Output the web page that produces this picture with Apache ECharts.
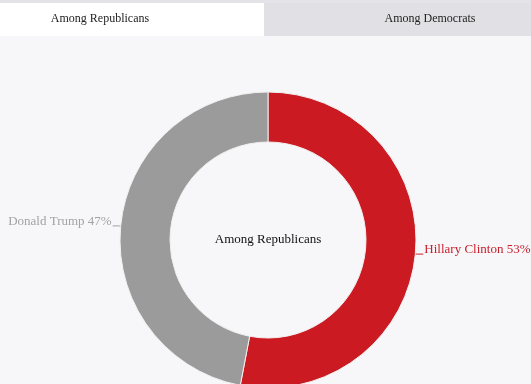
<!DOCTYPE html>
<html>
<head>
<meta charset="utf-8">
<script src="https://cdn.jsdelivr.net/npm/echarts@6/dist/echarts.min.js"></script>
<style>
  html, body { margin: 0; padding: 0; background: #f7f7fa; }
  #chart { width: 531px; height: 384px; }
</style>
</head>
<body>
<div id="chart"></div>
<script>
// Poll shares among Republicans
const candidates = ['Hillary Clinton', 'Donald Trump'];
const shares = [53, 47];
const sliceColors = ['#cc1a22', '#9b9b9b'];
const labelColors = ['#c8202c', '#a3a3a3'];
const tabNames = ['Among Republicans', 'Among Democrats'];
const centerTitle = 'Among Republicans';

const serif = '"Liberation Serif", "DejaVu Serif", serif';
const chart = echarts.init(document.getElementById('chart'));

const pieData = candidates.map((name, i) => ({
  name: name,
  value: shares[i],
  itemStyle: { color: sliceColors[i] },
  label: { color: labelColors[i] },
  labelLine: { lineStyle: { color: labelColors[i] } }
}));

const textStyle = (x, y, text, color, size) => ({
  type: 'text', x: x, y: y,
  style: { text: text, fill: color, fontFamily: serif, fontSize: size, align: 'center', verticalAlign: 'middle' }
});

chart.setOption({
  backgroundColor: '#f7f7fa',
  animation: false,
  graphic: [
    { type: 'rect', shape: { x: 0, y: 0, width: 531, height: 3 }, style: { fill: '#e4e4e8' } },
    { type: 'rect', shape: { x: 0, y: 3, width: 264, height: 33 }, style: { fill: '#ffffff' } },
    { type: 'rect', shape: { x: 264, y: 3, width: 267, height: 33 }, style: { fill: '#e1e1e5' } },
    textStyle(100, 19, tabNames[0], '#222', 12),
    textStyle(430, 19, tabNames[1], '#222', 12),
    textStyle(268, 240, centerTitle, '#111', 13)
  ],
  series: [{
    type: 'pie',
    center: [268, 240],
    radius: [98, 148],
    startAngle: 90,
    clockwise: true,
    data: pieData,
    itemStyle: { borderColor: '#f0f0f0', borderWidth: 1 },
    label: {
      show: true,
      position: 'outside',
      formatter: '{t|{b} {c}%}',
      overflow: 'none',
      distanceToLabelLine: 1,
      rich: {
        t: { fontFamily: serif, fontSize: 13, padding: [0, 0, 9, 0] }
      }
    },
    labelLine: { show: true, length: 2, length2: 6, smooth: false, lineStyle: { width: 1 } },
    emphasis: { disabled: true }
  }]
});
</script>
</body>
</html>
